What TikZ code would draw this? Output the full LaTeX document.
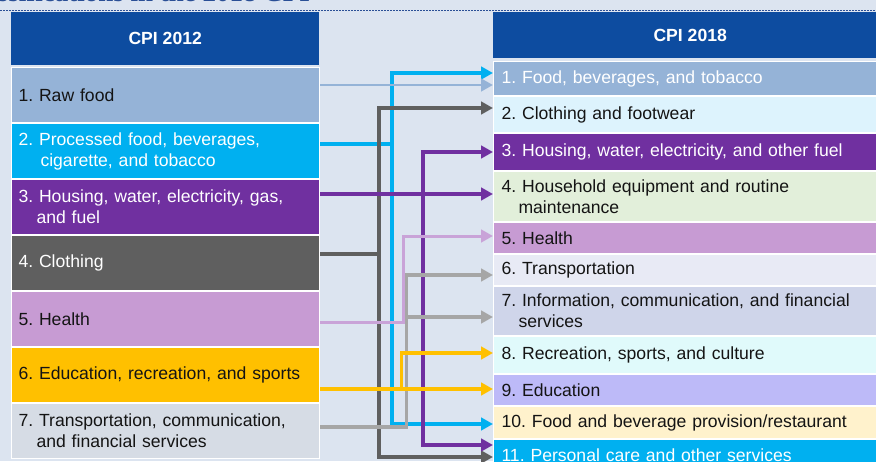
\documentclass[tikz,border=0pt]{standalone}
\usepackage{fontspec}
\setmainfont{Liberation Sans}
\newfontfamily\titlefont{Liberation Serif}
\usetikzlibrary{arrows.meta}
\frenchspacing
\definecolor{bg}{HTML}{DCE4F0}
\definecolor{hdrblue}{HTML}{0D4CA0}
\definecolor{titleblue}{HTML}{2A4F96}
\definecolor{steel}{HTML}{95B3D7}
\definecolor{cyanC}{HTML}{00B0F0}
\definecolor{purp}{HTML}{7030A0}
\definecolor{dgray}{HTML}{5F5F5F}
\definecolor{lilac}{HTML}{C79BD3}
\definecolor{lilacC}{HTML}{C9A3D8}
\definecolor{yel}{HTML}{FFC000}
\definecolor{lgrow}{HTML}{D6DCE5}
\definecolor{lgray}{HTML}{A6A6A6}
\definecolor{rtwo}{HTML}{DDF3FD}
\definecolor{rfour}{HTML}{E2EFDA}
\definecolor{rsix}{HTML}{E8EAF5}
\definecolor{rseven}{HTML}{CFD5EA}
\definecolor{reight}{HTML}{E0FAFB}
\definecolor{rnine}{HTML}{BDBAF8}
\definecolor{rten}{HTML}{FFF2CC}
\definecolor{ink}{HTML}{141414}
\newcommand{\rowfont}{\fontsize{17.6}{21}\selectfont}
\begin{document}
\begin{tikzpicture}[x=1pt,y=-1pt,
  lrow/.style={anchor=north west, inner xsep=7pt, inner ysep=0pt, text width=294pt,
    align=left, draw=white, line width=1pt, font=\rowfont, text=ink, minimum height=55pt},
  rrow/.style={anchor=north west, inner xsep=8pt, inner ysep=0pt, text width=378pt,
    align=left, draw=white, line width=1pt, font=\rowfont, text=ink},
  hdr/.style={anchor=north west, fill=hdrblue, text=white, font=\rowfont\bfseries,
    inner sep=0pt, align=center},
  ln/.style={line width=3.3pt},
  arr/.style={-{Triangle[length=12pt,width=12.5pt]}}
]
\useasboundingbox (0,0) rectangle (876,461);
\fill[bg] (0,0) rectangle (876,461);
% cropped title and dotted rule
\node[anchor=base east, font=\titlefont\bfseries\fontsize{27}{30}\selectfont, text=titleblue, inner sep=0pt] (title) at (310,1.5) {Classifications in the 2018 CPI};
\coordinate (ruleL) at (0,10);
\coordinate (ruleR) at (876,10);
\draw[titleblue, line width=0.9pt, dash pattern=on 1.5pt off 1.5pt] (ruleL) -- (ruleR);

% headers
\node[hdr, minimum width=308pt, minimum height=53pt] (HL) at (11,12) {CPI 2012};
\node[hdr, minimum width=394pt, minimum height=46pt] (HR) at (493,12) {CPI 2018};

% left column
\node[lrow, fill=steel] (L1) at (11,67) {1. Raw food};
\node[lrow, fill=cyanC, text=white] (L2) at (11,123) {2. Processed food, beverages,\\\hspace*{22pt}cigarette, and tobacco};
\node[lrow, fill=purp, text=white] (L3) at (11,179) {3. Housing, water, electricity, gas,\\\hspace*{18pt}and fuel};
\node[lrow, fill=dgray, text=white] (L4) at (11,235) {4. Clothing};
\node[lrow, fill=lilac] (L5) at (11,291) {5. Health};
\node[lrow, fill=yel] (L6) at (11,347) {6. Education, recreation, and sports};
\node[lrow, fill=lgrow] (L7) at (11,403) {7. Transportation, communication,\\\hspace*{18pt}and financial services};

% right column
\node[rrow, fill=steel, text=white, minimum height=34pt] (R1) at (493,61) {1. Food, beverages, and tobacco};
\node[rrow, fill=rtwo, minimum height=36pt] (R2) at (493,96) {2. Clothing and footwear};
\node[rrow, fill=purp, text=white, minimum height=37pt] (R3) at (493,133) {3. Housing, water, electricity, and other fuel};
\node[rrow, fill=rfour, minimum height=50pt] (R4) at (493,171) {4. Household equipment and routine\\\hspace*{17pt}maintenance};
\node[rrow, fill=lilac, minimum height=31pt] (R5) at (493,222) {5. Health};
\node[rrow, fill=rsix, minimum height=31pt] (R6) at (493,254) {6. Transportation};
\node[rrow, fill=rseven, minimum height=49pt] (R7) at (493,286) {7. Information, communication, and financial\\\hspace*{17pt}services};
\node[rrow, fill=reight, minimum height=37pt] (R8) at (493,336) {8. Recreation, sports, and culture};
\node[rrow, fill=rnine, minimum height=31pt] (R9) at (493,374) {9. Education};
\node[rrow, fill=rten, minimum height=32pt] (R10) at (493,406) {10. Food and beverage provision/restaurant};
\node[rrow, fill=cyanC, text=white, minimum height=31pt] (R11) at (493,439) {11. Personal care and other services};

% connectors
% cyan
\coordinate (cyJ) at (392,144);
\draw[ln, cyanC] (L2.east |- cyJ) -- (cyJ);
\draw[ln, cyanC, arr] (cyJ) |- (R1.west |- 0,73);
\draw[ln, cyanC, arr] (cyJ) |- (R10.west |- 0,424);
% dark gray
\coordinate (dgJ) at (379,254);
\draw[ln, dgray] (L4.east |- dgJ) -- (dgJ);
\draw[ln, dgray, arr] (dgJ) |- (R2.west |- 0,108);
\draw[ln, dgray, arr] (dgJ) |- (R11.west |- 0,457);
% steel
\draw[line width=2.8pt, steel, arr] (L1.east |- 0,85) -- (R1.west |- 0,85);
% purple
\coordinate (puJ) at (423,194);
\draw[ln, purp, arr] (L3.east |- puJ) -- (R4.west |- puJ);
\draw[ln, purp, arr] (puJ) |- (R3.west |- 0,152);
\draw[ln, purp, arr] (puJ) |- (R11.west |- 0,445);
% lilac
\coordinate (liJ) at (403,322);
\draw[line width=3pt, lilacC, arr] (L5.east |- liJ) -- (liJ) |- (R5.west |- 0,236);
% light gray
\coordinate (lgJ) at (406.5,317);
\draw[ln, lgray, arr] (L7.east |- 0,427) -| (lgJ) |- (R6.west |- 0,275);
\draw[ln, lgray, arr] (lgJ) -- (R7.west |- lgJ);
% yellow
\coordinate (yeJ) at (401.5,389);
\draw[ln, yel, arr] (L6.east |- yeJ) -- (R9.west |- yeJ);
\draw[ln, yel, arr] (yeJ) |- (R8.west |- 0,353);
\end{tikzpicture}
\end{document}
